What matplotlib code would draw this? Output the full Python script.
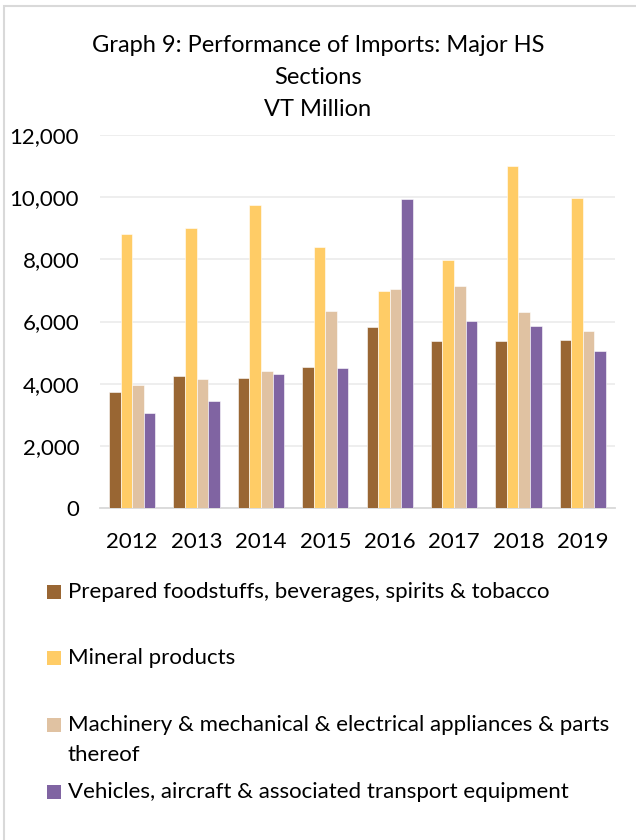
import matplotlib
matplotlib.use('Agg')
import matplotlib.pyplot as plt
import numpy as np
from matplotlib.patches import Rectangle

plt.rcParams['font.family'] = ['Lato', 'DejaVu Sans']

years = ['2012', '2013', '2014', '2015', '2016', '2017', '2018', '2019']
foodstuffs = [3735, 4240, 4175, 4550, 5830, 5380, 5380, 5420]
mineral = [8810, 8995, 9735, 8405, 6975, 7975, 11010, 9970]
machinery = [3950, 4165, 4400, 6345, 7050, 7140, 6290, 5690]
vehicles = [3070, 3455, 4305, 4510, 9930, 6030, 5870, 5035]

labels = ['Prepared foodstuffs, beverages, spirits & tobacco',
          'Mineral products',
          'Machinery & mechanical & electrical appliances & parts\nthereof',
          'Vehicles, aircraft & associated transport equipment']
colors = ['#996633', '#FFCC66', '#E0C2A2', '#8064A2']

fig = plt.figure(figsize=(6.36, 8.4), dpi=100)
ax = fig.add_axes([100/636, 1-508/840, 515/636, 373/840])

# chart border
fig.patches.append(Rectangle((4/636, -0.01), 1.2, 1 - 6/840 + 0.01, transform=fig.transFigure,
                             fill=False, edgecolor='#D9D9D9', linewidth=1.5))

x = np.arange(len(years))
w = 0.18
series = [foodstuffs, mineral, machinery, vehicles]
for i, (s, c) in enumerate(zip(series, colors)):
    ax.bar(x + (i - 1.5) * w, s, w, color=c, edgecolor='white', linewidth=0.4, zorder=3)

ax.set_ylim(0, 12000)
ax.set_xlim(-0.5, len(years) - 0.5)
ax.set_yticks(range(0, 12001, 2000))
ax.set_yticklabels([f'{v:,}' for v in range(0, 12001, 2000)])
ax.set_xticks(x)
ax.set_xticklabels(years)
ax.tick_params(axis='both', length=0, labelsize=16, colors='black')
ax.tick_params(axis='x', pad=17)
ax.tick_params(axis='y', pad=15)
ax.grid(axis='y', color='#EDEDED', linewidth=1.3, zorder=0)
for sp in ['top', 'right', 'left']:
    ax.spines[sp].set_visible(False)
ax.spines['bottom'].set_color('#D9D9D9')
ax.spines['bottom'].set_linewidth(1.3)

fig.text(0.5, 1 - 45/840, 'Graph 9: Performance of Imports: Major HS', ha='center', va='center', fontsize=17)
fig.text(0.5, 1 - 77/840, 'Sections', ha='center', va='center', fontsize=17)
fig.text(0.5, 1 - 109/840, 'VT Million', ha='center', va='center', fontsize=17)

# legend
leg_y = [592, 658, 725, 792]
for yy, lab, c in zip(leg_y, labels, colors):
    fig.patches.append(Rectangle((47/636, 1 - (yy + 7)/840), 14/636, 14/840,
                                 transform=fig.transFigure, facecolor=c, edgecolor='none'))
    for k, part in enumerate(lab.split('\n')):
        fig.text(68/636, 1 - (yy + 30 * k)/840, part, ha='left', va='center', fontsize=16)

fig.savefig('out.png', dpi=100)
